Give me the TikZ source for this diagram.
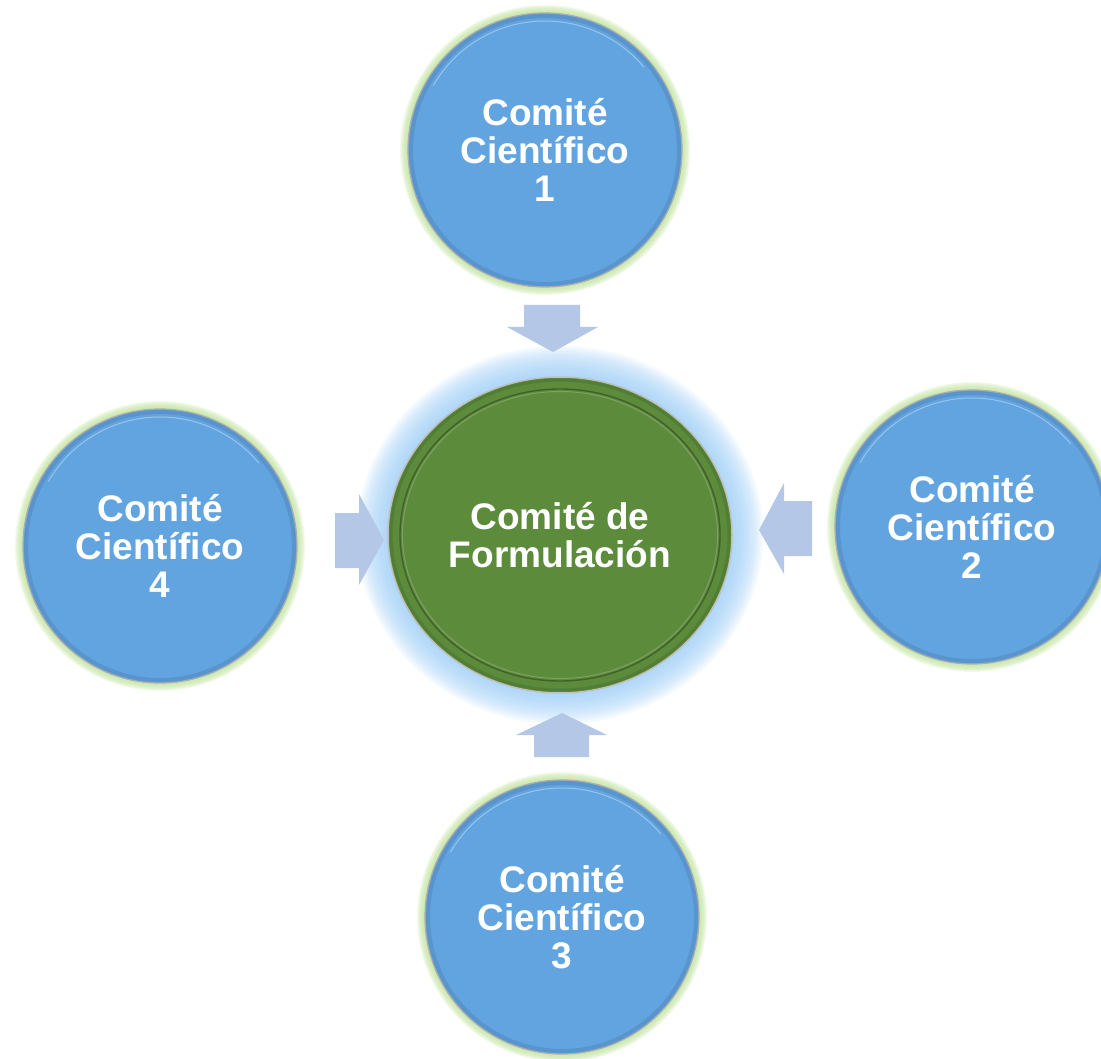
\documentclass[tikz,border=0pt]{standalone}
\usepackage{fontspec}
\setmainfont{Liberation Sans}
\usetikzlibrary{shapes.geometric,backgrounds}
\definecolor{cblue}{HTML}{62A4E0}
\definecolor{cgreen}{HTML}{5C8B3B}
\definecolor{carrow}{HTML}{B4C7E7}
\definecolor{cglowg}{HTML}{BFE29A}
\definecolor{cglowb}{HTML}{9CCDF6}
\begin{document}
\begin{tikzpicture}[x=1pt,y=-1pt,
  lbl/.style={text=white,align=center,font=\fontsize{37}{38}\selectfont\bfseries,inner sep=0pt},
  sci/.style={lbl,circle,fill=cblue,minimum size=274pt,draw=gray!65,line width=1.2pt},
  core/.style={lbl,ellipse,fill=cgreen,minimum width=344pt,minimum height=316pt,draw=gray!50,line width=1.5pt},
  blockarrow/.style={fill=carrow}]
\useasboundingbox (0,0) rectangle (1101,1059);
% nodes
\node[sci] (c1) at (545,150) {Comité\\Científico\\1};
\node[sci] (c2) at (972,527) {Comité\\Científico\\2};
\node[sci] (c3) at (562,917) {Comité\\Científico\\3};
\node[sci] (c4) at (160,546) {Comité\\Científico\\4};
\node[core] (f) at (560,535) {Comité de\\Formulación};
% bevel details
\foreach \c in {c1,c2,c3,c4}{
  \draw[cblue!60!black,opacity=0.22,line width=4pt] (\c.center) circle[radius=134pt];
  \draw[white,opacity=0.35,line width=1pt] (\c.center) ++(150:129pt) arc[start angle=150,end angle=40,radius=129pt];
}
\draw[cgreen!70!black,line width=1.4pt] (f.center) ellipse[x radius=160pt,y radius=146pt];
\draw[cgreen!60!white,opacity=0.5,line width=1pt] (f.center) ellipse[x radius=157.5pt,y radius=143.5pt];
\draw[cgreen!75!black,opacity=0.4,line width=3pt] (f.center) ellipse[x radius=169pt,y radius=155pt];
% glows
\begin{scope}[on background layer]
  \foreach \c in {c1,c2,c3,c4}{
    \foreach \i in {1,...,8}{
      \fill[cglowg,opacity=0.18] (\c.center) circle[radius={(137+\i)*1pt}];
    }
  }
  \foreach \i in {1,...,13}{
    \fill[cglowb,opacity=0.11] (f.center) ellipse[x radius={(172+2.4*\i)*1pt},y radius={(158+2.4*\i)*1pt}];
  }
\end{scope}
% block arrows
\fill[blockarrow] (524,305) -- (580,305) -- (580,327) -- (598,327) -- (553,352) -- (507,327) -- (524,327) -- cycle;
\fill[blockarrow] (534,757) -- (589,757) -- (589,735) -- (607,735) -- (562,713) -- (516,735) -- (534,735) -- cycle;
\fill[blockarrow] (335,513) -- (359,513) -- (359,494) -- (384,540) -- (359,585) -- (359,568) -- (335,568) -- cycle;
\fill[blockarrow] (812,501) -- (784,501) -- (784,483) -- (759,530) -- (784,574) -- (784,556) -- (812,556) -- cycle;
\end{tikzpicture}
\end{document}
